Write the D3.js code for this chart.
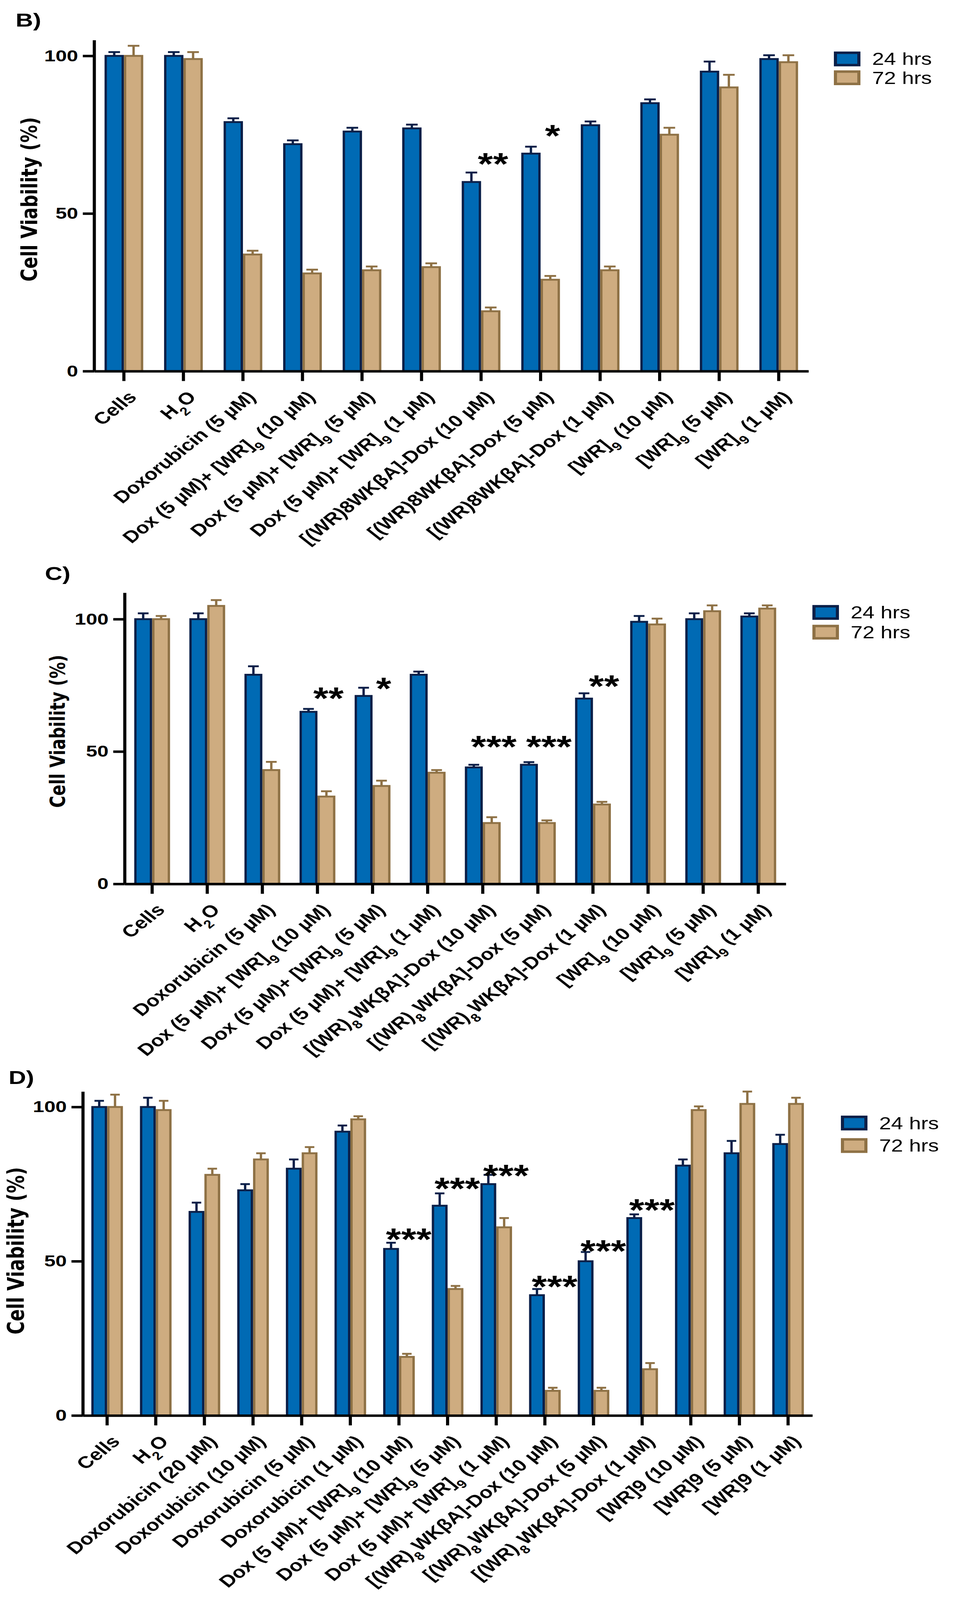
<!DOCTYPE html>
<html>
<head>
<meta charset="utf-8">
<script src="https://cdn.jsdelivr.net/npm/d3@7"></script>
<style>
  html, body { margin: 0; padding: 0; background: #fff; overflow: hidden; }
  svg { display: block; }
</style>
</head>
<body>
<div id="chart"></div>
<script>
// Cell viability, three panels (B, C, D), 24 hrs vs 72 hrs
// "_9" in a label means the next character is a subscript

const labelsB = ["Cells", "H_2O", "Doxorubicin (5 µM)", "Dox (5 µM)+ [WR]_9 (10 µM)", "Dox (5 µM)+ [WR]_9 (5 µM)",
  "Dox (5 µM)+ [WR]_9 (1 µM)", "[(WR)8WKβA]-Dox (10 µM)", "[(WR)8WKβA]-Dox (5 µM)", "[(WR)8WKβA]-Dox (1 µM)",
  "[WR]_9 (10 µM)", "[WR]_9 (5 µM)", "[WR]_9 (1 µM)"];
const blueB = [100, 100, 79, 72, 76, 77, 60, 69, 78, 85, 95, 99];
const blueErrB = [1.2, 1.2, 1.2, 1.2, 1.2, 1.2, 3, 2.2, 1.2, 1.2, 3.2, 1.2];
const tanB = [100, 99, 37, 31, 32, 33, 19, 29, 32, 75, 90, 98];
const tanErrB = [3.2, 2.2, 1.2, 1.2, 1.2, 1.2, 1.2, 1.2, 1.2, 2.2, 4, 2.2];
const starsB = ["", "", "", "", "", "", "**", "*", "", "", "", ""];
const starLevelB = [0, 0, 0, 0, 0, 0, 66.4, 75.4, 0, 0, 0, 0];

const labelsC = ["Cells", "H_2O", "Doxorubicin (5 µM)", "Dox (5 µM)+ [WR]_9 (10 µM)", "Dox (5 µM)+ [WR]_9 (5 µM)",
  "Dox (5 µM)+ [WR]_9 (1 µM)", "[(WR)_8WKβA]-Dox (10 µM)", "[(WR)_8WKβA]-Dox (5 µM)", "[(WR)_8WKβA]-Dox (1 µM)",
  "[WR]_9 (10 µM)", "[WR]_9 (5 µM)", "[WR]_9 (1 µM)"];
const blueC = [100, 100, 79, 65, 71, 79, 44, 45, 70, 99, 100, 101];
const blueErrC = [2.2, 2.2, 3.2, 1.1, 3.1, 1.2, 1, 1, 2, 2.2, 2.2, 1.2];
const tanC = [100, 105, 43, 33, 37, 42, 23, 23, 30, 98, 103, 104];
const tanErrC = [1.2, 2.2, 3.1, 2, 2, 1, 2.2, 1, 1, 2.2, 2.2, 1.2];
const starsC = ["", "", "", "**", "*", "", "***", "***", "**", "", "", ""];
const starLevelC = [0, 0, 0, 70.9, 74.7, 0, 52.7, 52.7, 75.6, 0, 0, 0];

const labelsD = ["Cells", "H_2O", "Doxorubicin (20 µM)", "Doxorubicin (10 µM)", "Doxorubicin (5 µM)",
  "Doxorubicin (1 µM)", "Dox (5 µM)+ [WR]_9 (10 µM)", "Dox (5 µM)+ [WR]_9 (5 µM)", "Dox (5 µM)+ [WR]_9 (1 µM)",
  "[(WR)_8WKβA]-Dox (10 µM)", "[(WR)_8WKβA]-Dox (5 µM)", "[(WR)_8WKβA]-Dox (1 µM)",
  "[WR]9 (10 µM)", "[WR]9 (5 µM)", "[WR]9 (1 µM)"];
const blueD = [100, 100, 66, 73, 80, 92, 54, 68, 75, 39, 50, 64, 81, 85, 88];
const blueErrD = [2, 3, 3, 2, 3, 2, 2, 4, 3, 2, 3, 1.2, 2, 4, 3];
const tanD = [100, 99, 78, 83, 85, 96, 19, 41, 61, 8, 8, 15, 99, 101, 101];
const tanErrD = [4, 3, 2, 2, 2, 1, 1, 1, 3, 1, 1, 2, 1.2, 4, 2];
const starsD = ["", "", "", "", "", "", "***", "***", "***", "***", "***", "***", "", "", ""];
const starLevelD = [0, 0, 0, 0, 0, 0, 57.8, 74.3, 78.5, 42.5, 54, 67.3, 0, 0, 0];

const seriesNames = ["24 hrs", "72 hrs"];
const yTicks = [0, 50, 100];

// colours
var blueFill = "#006ab4", blueLine = "#0b1f48";
var tanFill = "#ceac80", tanLine = "#8e7145";

// layout of each panel (pixels of the 2440x5186 figure)
var panels = [
  { tag: "B)", labels: labelsB, blue: blueB, blueErr: blueErrB, tan: tanB, tanErr: tanErrB, stars: starsB, starLevel: starLevelB,
    axisX: 241, axisEnd: 2070, y0: 1203, yMax: 105, yTop: 130, tagX: 40, tagY: 86,
    titleX: 75, titleY: 646, titleSize: 57, legX: 2135, legY: 167, legGap: 61 },
  { tag: "C)", labels: labelsC, blue: blueC, blueErr: blueErrC, tan: tanC, tanErr: tanErrC, stars: starsC, starLevel: starLevelC,
    axisX: 319, axisEnd: 2012, y0: 2865, yMax: 110, yTop: 1921, tagX: 115, tagY: 1880,
    titleX: 148, titleY: 2370, titleSize: 53, legX: 2080, legY: 1961, legGap: 64 },
  { tag: "D)", labels: labelsD, blue: blueD, blueErr: blueErrD, tan: tanD, tanErr: tanErrD, stars: starsD, starLevel: starLevelD,
    axisX: 212, axisEnd: 2080, y0: 4588, yMax: 105, yTop: 3538, tagX: 22, tagY: 3514,
    titleX: 40, titleY: 4054, titleSize: 58, legX: 2153, legY: 3616, legGap: 73 }
];

// the figure fills the whole window (the window may be shorter than 5186)
var vw = window.innerWidth || 2440, vh = window.innerHeight || 5186;
var svg = d3.select("#chart")
  .append("svg")
  .attr("viewBox", "0 0 2440 5186")
  .attr("preserveAspectRatio", "none")
  .attr("width", vw)
  .attr("height", vh)
  .style("background", "#fff");

// split "H_2O" into pieces, subscript ones flagged
function labelParts(str) {
  var parts = [];
  var re = /_(.)/g, last = 0, m;
  while ((m = re.exec(str)) !== null) {
    if (m.index > last) parts.push({ t: str.slice(last, m.index), sub: false });
    parts.push({ t: m[1], sub: true });
    last = re.lastIndex;
  }
  if (last < str.length) parts.push({ t: str.slice(last), sub: false });
  return parts;
}

panels.forEach(function (p) {
  var g = svg.append("g");

  var x0 = d3.scaleBand()
    .domain(p.labels)
    .range([p.axisX, p.axisEnd])
    .paddingInner(0.35)
    .paddingOuter(0.175);
  var x1 = d3.scaleBand()
    .domain(seriesNames)
    .range([0, x0.bandwidth()]);
  var y = d3.scaleLinear()
    .domain([0, p.yMax])
    .range([p.y0, p.yTop]);

  var sw = 6;
  var barW = x1.bandwidth();

  var rows = p.labels.map(function (lab, i) {
    return [
      { key: seriesNames[0], lab: lab, v: p.blue[i], e: p.blueErr[i], fill: blueFill, line: blueLine },
      { key: seriesNames[1], lab: lab, v: p.tan[i], e: p.tanErr[i], fill: tanFill, line: tanLine }
    ];
  });

  // error bars (upper only)
  var eb = g.append("g");
  rows.forEach(function (r) {
    r.forEach(function (d) {
      var cx = x0(d.lab) + x1(d.key) + barW / 2;
      eb.append("line")
        .attr("x1", cx).attr("x2", cx)
        .attr("y1", y(d.v)).attr("y2", y(d.v + d.e))
        .attr("stroke", d.line).attr("stroke-width", sw);
      eb.append("line")
        .attr("x1", cx - barW * 0.3).attr("x2", cx + barW * 0.3)
        .attr("y1", y(d.v + d.e)).attr("y2", y(d.v + d.e))
        .attr("stroke", d.line).attr("stroke-width", sw);
    });
  });

  // bars
  g.append("g")
    .selectAll("g")
    .data(rows)
    .join("g")
    .attr("transform", function (r) { return "translate(" + x0(r[0].lab) + ",0)"; })
    .selectAll("rect")
    .data(function (r) { return r; })
    .join("rect")
    .attr("x", function (d) { return x1(d.key) + sw / 2; })
    .attr("y", function (d) { return y(d.v); })
    .attr("width", barW - sw)
    .attr("height", function (d) { return y(0) - y(d.v); })
    .attr("fill", function (d) { return d.fill; })
    .attr("stroke", function (d) { return d.line; })
    .attr("stroke-width", sw);

  // y axis
  var ya = g.append("g")
    .attr("transform", "translate(" + p.axisX + ",0)")
    .call(d3.axisLeft(y).tickValues(yTicks).tickSize(29).tickSizeOuter(0).tickPadding(12));
  ya.selectAll("path, line").attr("stroke", "#000").attr("stroke-width", 8);
  ya.selectAll("text")
    .attr("font-family", "'Liberation Sans', Arial, sans-serif")
    .attr("font-weight", "bold")
    .attr("font-size", 52)
    .attr("fill", "#000");

  // x axis
  var xa = g.append("g")
    .attr("transform", "translate(0," + p.y0 + ")")
    .call(d3.axisBottom(x0).tickSize(32).tickSizeOuter(0));
  xa.selectAll("path, line").attr("stroke", "#000").attr("stroke-width", 8);
  xa.selectAll(".tick text").each(function (d) {
    var t = d3.select(this);
    t.text(null)
      .attr("x", 0).attr("y", 0).attr("dy", "0.35em")
      .attr("text-anchor", "end")
      .attr("transform", "translate(22,74) rotate(-45)")
      .attr("font-family", "'Liberation Sans', Arial, sans-serif")
      .attr("font-weight", "bold")
      .attr("font-size", 54)
      .attr("fill", "#000");
    labelParts(d).forEach(function (part) {
      var ts = t.append("tspan").text(part.t);
      if (part.sub) ts.attr("baseline-shift", "sub").attr("font-size", "70%");
    });
  });

  // significance stars
  p.stars.forEach(function (s, i) {
    if (!s) return;
    g.append("text")
      .attr("x", x0(p.labels[i]) + x0.bandwidth() / 2 + x0.step() * 0.2)
      .attr("y", y(p.starLevel[i]) + 42)
      .attr("text-anchor", "middle")
      .attr("font-family", "'Liberation Sans', Arial, sans-serif")
      .attr("font-weight", "bold")
      .attr("font-size", 100)
      .text(s);
  });

  // y title
  g.append("text")
    .attr("transform", "translate(" + p.titleX + "," + p.titleY + ") rotate(-90)")
    .attr("text-anchor", "middle")
    .attr("dominant-baseline", "central")
    .attr("font-family", "'DejaVu Sans', Verdana, sans-serif")
    .attr("font-weight", "bold")
    .attr("font-size", p.titleSize)
    .text("Cell Viability (%)");

  // panel tag
  g.append("text")
    .attr("x", p.tagX).attr("y", p.tagY)
    .attr("font-family", "'Liberation Sans', Arial, sans-serif")
    .attr("font-weight", "bold")
    .attr("font-size", 62)
    .text(p.tag);

  // legend
  var leg = g.append("g").attr("transform", "translate(" + p.legX + "," + p.legY + ")");
  [[blueFill, blueLine], [tanFill, tanLine]].forEach(function (c, i) {
    leg.append("rect")
      .attr("x", 4).attr("y", i * p.legGap + 4)
      .attr("width", 60).attr("height", 40)
      .attr("fill", c[0]).attr("stroke", c[1]).attr("stroke-width", 8);
    leg.append("text")
      .attr("x", 98).attr("y", i * p.legGap + 24)
      .attr("dy", "0.36em")
      .attr("font-family", "'Liberation Sans', Arial, sans-serif")
      .attr("font-size", 55)
      .text(seriesNames[i]);
  });
});
</script>
</body>
</html>
